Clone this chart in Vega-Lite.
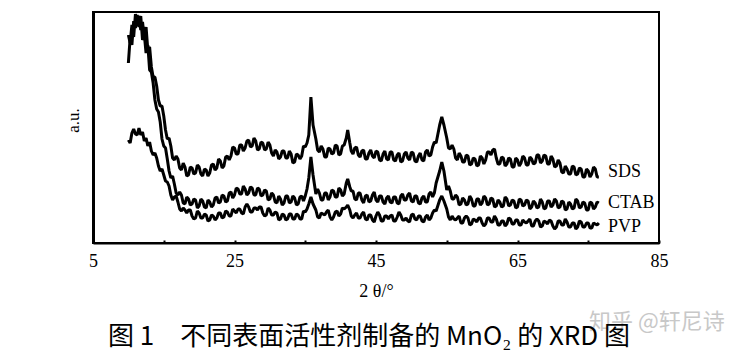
{
  "$schema": "https://vega.github.io/schema/vega-lite/v6.json",
  "width": 566,
  "height": 231,
  "autosize": "none",
  "padding": {"left": 93, "top": 12, "right": 83, "bottom": 109},
  "background": "white",
  "config": {
    "view": {"stroke": "#000", "strokeWidth": 2},
    "font": "Liberation Serif"
  },
  "title": {
    "text": "图 1　不同表面活性剂制备的 MnO₂ 的 XRD 图",
    "orient": "bottom",
    "anchor": "middle",
    "font": "Noto Sans CJK SC",
    "fontSize": 26,
    "fontWeight": "normal",
    "color": "#000",
    "offset": -9,
    "dx": -7
  },
  "datasets": {
    "xrd": [
      {"x":10,"SDS":208,"CTAB":180,"PVP":103},
      {"x":10.25,"SDS":200,"CTAB":205,"PVP":100},
      {"x":10.5,"SDS":218,"CTAB":198,"PVP":110},
      {"x":10.75,"SDS":206,"CTAB":222,"PVP":114},
      {"x":11,"SDS":229,"CTAB":215,"PVP":109},
      {"x":11.25,"SDS":220,"CTAB":228,"PVP":108},
      {"x":11.5,"SDS":227,"CTAB":216,"PVP":115},
      {"x":11.75,"SDS":213,"CTAB":227,"PVP":108},
      {"x":12,"SDS":221,"CTAB":203,"PVP":111},
      {"x":12.25,"SDS":205,"CTAB":209,"PVP":102},
      {"x":12.5,"SDS":216,"CTAB":190,"PVP":105},
      {"x":12.75,"SDS":193,"CTAB":198,"PVP":97},
      {"x":13,"SDS":196,"CTAB":173,"PVP":101},
      {"x":13.25,"SDS":176,"CTAB":171,"PVP":92},
      {"x":13.5,"SDS":166,"CTAB":160,"PVP":88},
      {"x":13.75,"SDS":166,"CTAB":143,"PVP":90},
      {"x":14,"SDS":157,"CTAB":134,"PVP":85},
      {"x":14.25,"SDS":143,"CTAB":131,"PVP":77},
      {"x":14.5,"SDS":137,"CTAB":121,"PVP":72},
      {"x":14.75,"SDS":137,"CTAB":104,"PVP":74},
      {"x":15,"SDS":127,"CTAB":97,"PVP":68},
      {"x":15.25,"SDS":113,"CTAB":95,"PVP":62},
      {"x":15.5,"SDS":104,"CTAB":84,"PVP":61},
      {"x":15.75,"SDS":105,"CTAB":72,"PVP":57},
      {"x":16,"SDS":97,"CTAB":65,"PVP":48},
      {"x":16.25,"SDS":85,"CTAB":67,"PVP":43},
      {"x":16.5,"SDS":83,"CTAB":59,"PVP":46},
      {"x":16.75,"SDS":87,"CTAB":50,"PVP":47},
      {"x":17,"SDS":84,"CTAB":48,"PVP":41},
      {"x":17.25,"SDS":75,"CTAB":51,"PVP":34},
      {"x":17.5,"SDS":73,"CTAB":48,"PVP":32},
      {"x":17.75,"SDS":80,"CTAB":40,"PVP":35},
      {"x":18,"SDS":76,"CTAB":39,"PVP":33},
      {"x":18.25,"SDS":67,"CTAB":46,"PVP":30},
      {"x":18.5,"SDS":68,"CTAB":44,"PVP":33},
      {"x":18.75,"SDS":76,"CTAB":38,"PVP":33},
      {"x":19,"SDS":75,"CTAB":39,"PVP":27},
      {"x":19.25,"SDS":69,"CTAB":44,"PVP":24},
      {"x":19.5,"SDS":70,"CTAB":43,"PVP":25},
      {"x":19.75,"SDS":78,"CTAB":35,"PVP":32},
      {"x":20,"SDS":76,"CTAB":37,"PVP":30},
      {"x":20.25,"SDS":69,"CTAB":44,"PVP":25},
      {"x":20.5,"SDS":67,"CTAB":42,"PVP":25},
      {"x":20.75,"SDS":74,"CTAB":36,"PVP":29},
      {"x":21,"SDS":73,"CTAB":35,"PVP":28},
      {"x":21.25,"SDS":67,"CTAB":43,"PVP":22},
      {"x":21.5,"SDS":70,"CTAB":41,"PVP":23},
      {"x":21.75,"SDS":78,"CTAB":36,"PVP":28},
      {"x":22,"SDS":79,"CTAB":38,"PVP":27},
      {"x":22.25,"SDS":73,"CTAB":45,"PVP":23},
      {"x":22.5,"SDS":75,"CTAB":46,"PVP":25},
      {"x":22.75,"SDS":84,"CTAB":40,"PVP":30},
      {"x":23,"SDS":82,"CTAB":41,"PVP":30},
      {"x":23.25,"SDS":75,"CTAB":48,"PVP":25},
      {"x":23.5,"SDS":77,"CTAB":47,"PVP":26},
      {"x":23.75,"SDS":86,"CTAB":41,"PVP":32},
      {"x":24,"SDS":87,"CTAB":42,"PVP":31},
      {"x":24.25,"SDS":83,"CTAB":50,"PVP":27},
      {"x":24.5,"SDS":87,"CTAB":51,"PVP":27},
      {"x":24.75,"SDS":96,"CTAB":45,"PVP":34},
      {"x":25,"SDS":95,"CTAB":48,"PVP":32},
      {"x":25.25,"SDS":89,"CTAB":55,"PVP":30},
      {"x":25.5,"SDS":89,"CTAB":54,"PVP":34},
      {"x":25.75,"SDS":98,"CTAB":49,"PVP":34},
      {"x":26,"SDS":98,"CTAB":49,"PVP":30},
      {"x":26.25,"SDS":92,"CTAB":57,"PVP":29},
      {"x":26.5,"SDS":95,"CTAB":54,"PVP":36},
      {"x":26.75,"SDS":102,"CTAB":48,"PVP":39},
      {"x":27,"SDS":103,"CTAB":50,"PVP":36},
      {"x":27.25,"SDS":96,"CTAB":56,"PVP":31},
      {"x":27.5,"SDS":97,"CTAB":55,"PVP":31},
      {"x":27.75,"SDS":105,"CTAB":48,"PVP":35},
      {"x":28,"SDS":102,"CTAB":48,"PVP":35},
      {"x":28.25,"SDS":93,"CTAB":55,"PVP":33},
      {"x":28.5,"SDS":94,"CTAB":54,"PVP":36},
      {"x":28.75,"SDS":101,"CTAB":47,"PVP":36},
      {"x":29,"SDS":100,"CTAB":48,"PVP":30},
      {"x":29.25,"SDS":93,"CTAB":53,"PVP":27},
      {"x":29.5,"SDS":94,"CTAB":52,"PVP":28},
      {"x":29.75,"SDS":101,"CTAB":43,"PVP":35},
      {"x":30,"SDS":98,"CTAB":44,"PVP":33},
      {"x":30.25,"SDS":90,"CTAB":50,"PVP":28},
      {"x":30.5,"SDS":87,"CTAB":48,"PVP":28},
      {"x":30.75,"SDS":93,"CTAB":41,"PVP":31},
      {"x":31,"SDS":91,"CTAB":40,"PVP":30},
      {"x":31.25,"SDS":84,"CTAB":47,"PVP":23},
      {"x":31.5,"SDS":86,"CTAB":44,"PVP":24},
      {"x":31.75,"SDS":92,"CTAB":38,"PVP":29},
      {"x":32,"SDS":92,"CTAB":40,"PVP":28},
      {"x":32.25,"SDS":85,"CTAB":47,"PVP":23},
      {"x":32.5,"SDS":85,"CTAB":47,"PVP":24},
      {"x":32.75,"SDS":92,"CTAB":40,"PVP":29},
      {"x":33,"SDS":89,"CTAB":41,"PVP":29},
      {"x":33.25,"SDS":80,"CTAB":47,"PVP":24},
      {"x":33.5,"SDS":81,"CTAB":45,"PVP":24},
      {"x":33.75,"SDS":89,"CTAB":38,"PVP":29},
      {"x":34,"SDS":88,"CTAB":39,"PVP":28},
      {"x":34.25,"SDS":84,"CTAB":46,"PVP":24},
      {"x":34.5,"SDS":87,"CTAB":47,"PVP":24},
      {"x":34.75,"SDS":97,"CTAB":42,"PVP":32},
      {"x":35,"SDS":96,"CTAB":47,"PVP":31},
      {"x":35.25,"SDS":100,"CTAB":54,"PVP":34},
      {"x":35.5,"SDS":108,"CTAB":65,"PVP":39},
      {"x":35.8,"SDS":146,"CTAB":86,"PVP":46},
      {"x":36.1,"SDS":118,"CTAB":68,"PVP":39},
      {"x":36.5,"SDS":104,"CTAB":49,"PVP":33},
      {"x":36.75,"SDS":93,"CTAB":54,"PVP":26},
      {"x":37,"SDS":91,"CTAB":50,"PVP":25},
      {"x":37.25,"SDS":97,"CTAB":43,"PVP":30},
      {"x":37.5,"SDS":94,"CTAB":43,"PVP":29},
      {"x":37.75,"SDS":86,"CTAB":50,"PVP":28},
      {"x":38,"SDS":86,"CTAB":50,"PVP":31},
      {"x":38.25,"SDS":95,"CTAB":43,"PVP":33},
      {"x":38.5,"SDS":94,"CTAB":46,"PVP":26},
      {"x":38.75,"SDS":89,"CTAB":53,"PVP":23},
      {"x":39,"SDS":90,"CTAB":52,"PVP":26},
      {"x":39.25,"SDS":98,"CTAB":46,"PVP":31},
      {"x":39.5,"SDS":97,"CTAB":46,"PVP":32},
      {"x":39.75,"SDS":88,"CTAB":55,"PVP":27},
      {"x":40,"SDS":89,"CTAB":53,"PVP":29},
      {"x":40.25,"SDS":97,"CTAB":47,"PVP":35},
      {"x":40.5,"SDS":98,"CTAB":49,"PVP":34},
      {"x":40.8,"SDS":105,"CTAB":60,"PVP":36},
      {"x":41,"SDS":113,"CTAB":64,"PVP":38},
      {"x":41.3,"SDS":100,"CTAB":56,"PVP":33},
      {"x":41.5,"SDS":92,"CTAB":52,"PVP":27},
      {"x":41.75,"SDS":89,"CTAB":52,"PVP":25},
      {"x":42,"SDS":95,"CTAB":44,"PVP":28},
      {"x":42.25,"SDS":96,"CTAB":43,"PVP":30},
      {"x":42.5,"SDS":88,"CTAB":50,"PVP":25},
      {"x":42.75,"SDS":86,"CTAB":50,"PVP":25},
      {"x":43,"SDS":92,"CTAB":43,"PVP":29},
      {"x":43.25,"SDS":93,"CTAB":40,"PVP":31},
      {"x":43.5,"SDS":84,"CTAB":47,"PVP":24},
      {"x":43.75,"SDS":84,"CTAB":48,"PVP":23},
      {"x":44,"SDS":90,"CTAB":41,"PVP":28},
      {"x":44.25,"SDS":93,"CTAB":42,"PVP":28},
      {"x":44.5,"SDS":87,"CTAB":48,"PVP":23},
      {"x":44.75,"SDS":85,"CTAB":51,"PVP":21},
      {"x":45,"SDS":92,"CTAB":43,"PVP":27},
      {"x":45.25,"SDS":91,"CTAB":41,"PVP":31},
      {"x":45.5,"SDS":83,"CTAB":47,"PVP":28},
      {"x":45.75,"SDS":82,"CTAB":47,"PVP":22},
      {"x":46,"SDS":89,"CTAB":41,"PVP":22},
      {"x":46.25,"SDS":92,"CTAB":39,"PVP":27},
      {"x":46.5,"SDS":84,"CTAB":45,"PVP":27},
      {"x":46.75,"SDS":83,"CTAB":47,"PVP":24},
      {"x":47,"SDS":91,"CTAB":41,"PVP":27},
      {"x":47.25,"SDS":91,"CTAB":40,"PVP":28},
      {"x":47.5,"SDS":83,"CTAB":46,"PVP":22},
      {"x":47.75,"SDS":82,"CTAB":46,"PVP":22},
      {"x":48,"SDS":88,"CTAB":40,"PVP":26},
      {"x":48.25,"SDS":90,"CTAB":39,"PVP":31},
      {"x":48.5,"SDS":81,"CTAB":47,"PVP":28},
      {"x":48.75,"SDS":82,"CTAB":49,"PVP":23},
      {"x":49,"SDS":89,"CTAB":43,"PVP":23},
      {"x":49.25,"SDS":91,"CTAB":43,"PVP":25},
      {"x":49.5,"SDS":85,"CTAB":48,"PVP":22},
      {"x":49.75,"SDS":83,"CTAB":50,"PVP":21},
      {"x":50,"SDS":91,"CTAB":42,"PVP":28},
      {"x":50.25,"SDS":90,"CTAB":41,"PVP":29},
      {"x":50.5,"SDS":82,"CTAB":47,"PVP":24},
      {"x":50.75,"SDS":81,"CTAB":47,"PVP":23},
      {"x":51,"SDS":87,"CTAB":40,"PVP":27},
      {"x":51.25,"SDS":90,"CTAB":39,"PVP":27},
      {"x":51.5,"SDS":83,"CTAB":45,"PVP":22},
      {"x":51.75,"SDS":82,"CTAB":47,"PVP":21},
      {"x":52,"SDS":91,"CTAB":41,"PVP":26},
      {"x":52.25,"SDS":93,"CTAB":41,"PVP":28},
      {"x":52.5,"SDS":87,"CTAB":49,"PVP":23},
      {"x":52.75,"SDS":88,"CTAB":51,"PVP":25},
      {"x":53,"SDS":96,"CTAB":46,"PVP":30},
      {"x":53.25,"SDS":101,"CTAB":50,"PVP":33},
      {"x":53.5,"SDS":100,"CTAB":60,"PVP":32},
      {"x":54,"SDS":118,"CTAB":72,"PVP":43},
      {"x":54.3,"SDS":126,"CTAB":81,"PVP":47},
      {"x":54.6,"SDS":118,"CTAB":72,"PVP":42},
      {"x":55,"SDS":105,"CTAB":53,"PVP":34},
      {"x":55.25,"SDS":95,"CTAB":57,"PVP":26},
      {"x":55.5,"SDS":94,"CTAB":52,"PVP":23},
      {"x":55.75,"SDS":98,"CTAB":44,"PVP":27},
      {"x":56,"SDS":94,"CTAB":44,"PVP":24},
      {"x":56.25,"SDS":85,"CTAB":48,"PVP":23},
      {"x":56.5,"SDS":83,"CTAB":46,"PVP":25},
      {"x":56.75,"SDS":90,"CTAB":38,"PVP":27},
      {"x":57,"SDS":87,"CTAB":39,"PVP":20},
      {"x":57.25,"SDS":81,"CTAB":45,"PVP":20},
      {"x":57.5,"SDS":81,"CTAB":43,"PVP":25},
      {"x":57.75,"SDS":88,"CTAB":38,"PVP":27},
      {"x":58,"SDS":87,"CTAB":39,"PVP":25},
      {"x":58.25,"SDS":78,"CTAB":47,"PVP":18},
      {"x":58.5,"SDS":79,"CTAB":44,"PVP":19},
      {"x":58.75,"SDS":85,"CTAB":37,"PVP":24},
      {"x":59,"SDS":84,"CTAB":37,"PVP":23},
      {"x":59.25,"SDS":77,"CTAB":44,"PVP":21},
      {"x":59.5,"SDS":78,"CTAB":44,"PVP":25},
      {"x":59.75,"SDS":87,"CTAB":38,"PVP":25},
      {"x":60,"SDS":85,"CTAB":40,"PVP":20},
      {"x":60.25,"SDS":79,"CTAB":47,"PVP":17},
      {"x":60.5,"SDS":83,"CTAB":45,"PVP":19},
      {"x":60.75,"SDS":91,"CTAB":38,"PVP":25},
      {"x":61,"SDS":91,"CTAB":39,"PVP":25},
      {"x":61.25,"SDS":88,"CTAB":45,"PVP":21},
      {"x":61.5,"SDS":93,"CTAB":44,"PVP":21},
      {"x":61.75,"SDS":94,"CTAB":36,"PVP":27},
      {"x":62,"SDS":85,"CTAB":37,"PVP":24},
      {"x":62.25,"SDS":79,"CTAB":43,"PVP":18},
      {"x":62.5,"SDS":79,"CTAB":41,"PVP":18},
      {"x":62.75,"SDS":86,"CTAB":36,"PVP":22},
      {"x":63,"SDS":85,"CTAB":37,"PVP":22},
      {"x":63.25,"SDS":77,"CTAB":46,"PVP":17},
      {"x":63.5,"SDS":79,"CTAB":44,"PVP":19},
      {"x":63.75,"SDS":85,"CTAB":37,"PVP":25},
      {"x":64,"SDS":84,"CTAB":38,"PVP":24},
      {"x":64.25,"SDS":76,"CTAB":43,"PVP":19},
      {"x":64.5,"SDS":76,"CTAB":42,"PVP":19},
      {"x":64.75,"SDS":85,"CTAB":35,"PVP":23},
      {"x":65,"SDS":83,"CTAB":36,"PVP":23},
      {"x":65.25,"SDS":77,"CTAB":44,"PVP":18},
      {"x":65.5,"SDS":80,"CTAB":43,"PVP":18},
      {"x":65.75,"SDS":87,"CTAB":37,"PVP":23},
      {"x":66,"SDS":85,"CTAB":38,"PVP":21},
      {"x":66.25,"SDS":78,"CTAB":43,"PVP":20},
      {"x":66.5,"SDS":78,"CTAB":42,"PVP":22},
      {"x":66.75,"SDS":86,"CTAB":34,"PVP":24},
      {"x":67,"SDS":84,"CTAB":36,"PVP":17},
      {"x":67.25,"SDS":79,"CTAB":42,"PVP":17},
      {"x":67.5,"SDS":80,"CTAB":40,"PVP":22},
      {"x":67.75,"SDS":88,"CTAB":35,"PVP":24},
      {"x":68,"SDS":88,"CTAB":36,"PVP":22},
      {"x":68.25,"SDS":80,"CTAB":44,"PVP":16},
      {"x":68.5,"SDS":82,"CTAB":41,"PVP":17},
      {"x":68.75,"SDS":88,"CTAB":34,"PVP":22},
      {"x":69,"SDS":87,"CTAB":35,"PVP":21},
      {"x":69.25,"SDS":79,"CTAB":42,"PVP":19},
      {"x":69.5,"SDS":79,"CTAB":42,"PVP":23},
      {"x":69.75,"SDS":87,"CTAB":36,"PVP":22},
      {"x":70,"SDS":84,"CTAB":38,"PVP":17},
      {"x":70.25,"SDS":76,"CTAB":44,"PVP":14},
      {"x":70.5,"SDS":77,"CTAB":42,"PVP":16},
      {"x":70.75,"SDS":83,"CTAB":35,"PVP":22},
      {"x":71,"SDS":80,"CTAB":36,"PVP":22},
      {"x":71.25,"SDS":71,"CTAB":42,"PVP":18},
      {"x":71.5,"SDS":70,"CTAB":41,"PVP":18},
      {"x":71.75,"SDS":77,"CTAB":33,"PVP":24},
      {"x":72,"SDS":74,"CTAB":34,"PVP":21},
      {"x":72.25,"SDS":69,"CTAB":41,"PVP":16},
      {"x":72.5,"SDS":69,"CTAB":39,"PVP":16},
      {"x":72.75,"SDS":77,"CTAB":34,"PVP":20},
      {"x":73,"SDS":76,"CTAB":35,"PVP":20},
      {"x":73.25,"SDS":68,"CTAB":44,"PVP":14},
      {"x":73.5,"SDS":69,"CTAB":42,"PVP":16},
      {"x":73.75,"SDS":75,"CTAB":35,"PVP":22},
      {"x":74,"SDS":74,"CTAB":36,"PVP":21},
      {"x":74.25,"SDS":66,"CTAB":41,"PVP":16},
      {"x":74.5,"SDS":66,"CTAB":40,"PVP":16},
      {"x":74.75,"SDS":74,"CTAB":33,"PVP":20},
      {"x":75,"SDS":72,"CTAB":33,"PVP":20},
      {"x":75.25,"SDS":66,"CTAB":41,"PVP":15},
      {"x":75.5,"SDS":69,"CTAB":40,"PVP":15},
      {"x":75.75,"SDS":76,"CTAB":34,"PVP":20},
      {"x":76,"SDS":74,"CTAB":36,"PVP":19},
      {"x":76.25,"SDS":66,"CTAB":41,"PVP":18},
      {"x":76.5,"SDS":66,"CTAB":40,"PVP":20}
    ],
    "labels": [
      {"x":77.8,"v":71,"label":"SDS"},
      {"x":77.8,"v":40,"label":"CTAB"},
      {"x":77.8,"v":16,"label":"PVP"}
    ],
    "mark": [
      {"x":75.1,"v":-79,"label":"知乎 @轩尼诗"}
    ]
  },
  "layer": [
    {
      "data": {"name": "xrd"},
      "transform": [{"fold": ["SDS", "CTAB", "PVP"], "as": ["series", "v"]}],
      "mark": {"type": "line", "color": "#000", "strokeWidth": 3, "strokeJoin": "bevel"},
      "encoding": {
        "x": {
          "field": "x", "type": "quantitative",
          "scale": {"domain": [5, 85], "nice": false, "zero": false},
          "axis": {
            "title": "2 θ/°",
            "titleFont": "Liberation Serif",
            "titleFontSize": 18,
            "titleFontWeight": "normal",
            "titleColor": "#000",
            "titlePadding": 12,
            "values": [5, 15, 25, 35, 45, 55, 65, 75, 85],
            "labelExpr": "datum.value % 20 == 5 ? datum.label : ''",
            "labelFont": "Liberation Serif",
            "labelFontSize": 18,
            "labelColor": "#000",
            "labelPadding": 12,
            "labelFlush": false,
            "grid": false,
            "domainColor": "#000",
            "domainWidth": 2,
            "tickColor": "#000",
            "tickSize": -3,
            "tickWidth": 2
          }
        },
        "y": {
          "field": "v", "type": "quantitative",
          "scale": {"domain": [0, 231], "nice": false},
          "axis": {
            "title": "a.u.",
            "titleFont": "Liberation Serif",
            "titleFontSize": 17,
            "titleFontWeight": "normal",
            "titleColor": "#000",
            "titlePadding": 11,
            "titleY": 108,
            "labels": false,
            "ticks": false,
            "grid": false,
            "domainColor": "#000",
            "domainWidth": 3
          }
        },
        "detail": {"field": "series", "type": "nominal"}
      }
    },
    {
      "data": {"name": "labels"},
      "mark": {"type": "text", "align": "left", "baseline": "middle", "font": "Liberation Serif", "fontSize": 18, "color": "#000"},
      "encoding": {
        "x": {"field": "x", "type": "quantitative"},
        "y": {"field": "v", "type": "quantitative"},
        "text": {"field": "label"}
      }
    },
    {
      "data": {"name": "mark"},
      "mark": {"type": "text", "align": "left", "baseline": "middle", "font": "Noto Sans CJK SC", "fontSize": 22, "color": "#c8c8c8"},
      "encoding": {
        "x": {"field": "x", "type": "quantitative"},
        "y": {"field": "v", "type": "quantitative"},
        "text": {"field": "label"}
      }
    }
  ]
}
